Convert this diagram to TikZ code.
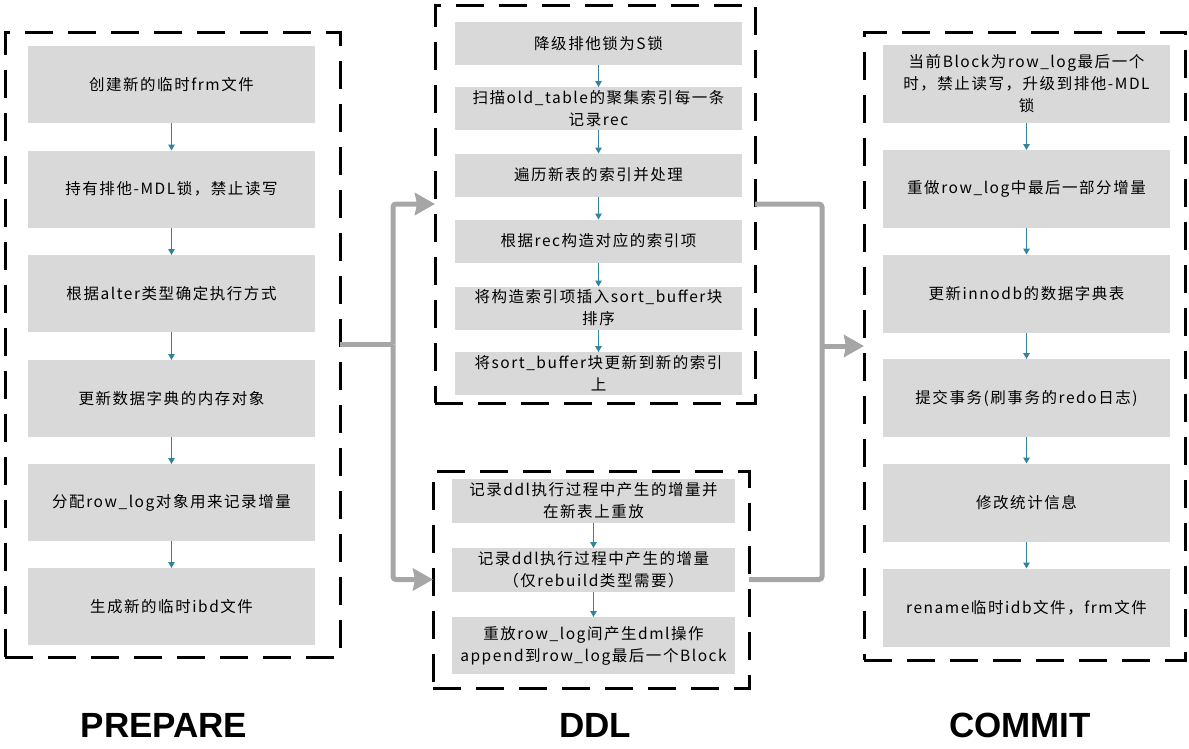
\documentclass[tikz,border=0pt]{standalone}
\usepackage{fontspec}
\setmainfont{Liberation Sans}
\newfontfamily\cjk[LetterSpace=10]{Noto Sans CJK SC}
\usetikzlibrary{arrows.meta}
\definecolor{boxgray}{HTML}{D9D9D9}
\definecolor{arrteal}{HTML}{31849B}
\definecolor{conngray}{HTML}{A6A6A6}
\tikzset{
  stepbox/.style={fill=boxgray, minimum width=287pt, inner sep=0pt, outer sep=0pt, align=center, font=\cjk\fontsize{15.5}{22}\selectfont},
  frame/.style={draw=black, line width=3pt, dash pattern=on 28pt off 15pt, inner sep=0pt, outer sep=0pt},
  flow/.style={draw=arrteal, line width=1.2pt, -{Triangle[length=6pt,width=6.5pt]}},
  bigline/.style={draw=conngray, line width=5pt, rounded corners=3pt},
  bigarrow/.style={bigline, -{Stealth[length=20pt,width=22pt,inset=2pt]}},
  phase/.style={font=\bfseries\fontsize{35}{40}\selectfont, inner sep=0pt}
}
\begin{document}
\begin{tikzpicture}[x=1pt,y=-1pt]
\useasboundingbox (0,0) rectangle (1189,748);

% frames
\node[frame, minimum width=335pt, minimum height=625pt] (prepF) at (172.5,344.5) {};
\node[frame, minimum width=320pt, minimum height=398pt] (ddlA) at (595,204) {};
\node[frame, minimum width=316pt, minimum height=217pt] (ddlB) at (591,579.5) {};
\node[frame, minimum width=321pt, minimum height=628pt] (commF) at (1024.5,346) {};

% PREPARE column
\begin{scope}[every node/.style={stepbox, minimum height=77pt}]
\node (L1) at (171.5,84.5) {创建新的临时frm文件};
\node (L2) at (171.5,189) {持有排他-MDL锁，禁止读写};
\node (L3) at (171.5,293.5) {根据alter类型确定执行方式};
\node (L4) at (171.5,398.5) {更新数据字典的内存对象};
\node (L5) at (171.5,502.5) {分配row\_log对象用来记录增量};
\node (L6) at (171.5,606.5) {生成新的临时ibd文件};
\end{scope}

% DDL top column
\begin{scope}[every node/.style={stepbox, minimum height=43pt}]
\node (A1) at (598.5,43.5) {降级排他锁为S锁};
\node (A2) at (598.5,108.5) {扫描old\_table的聚集索引每一条\\记录rec};
\node (A3) at (598.5,175) {遍历新表的索引并处理};
\node (A4) at (598.5,241) {根据rec构造对应的索引项};
\node (A5) at (598.5,308) {将构造索引项插入sort\_buffer块\\排序};
\node (A6) at (598.5,373.5) {将sort\_buffer块更新到新的索引\\上};
\end{scope}

% DDL bottom column
\begin{scope}[every node/.style={stepbox, minimum width=283pt, minimum height=44pt}]
\node (B1) at (593.5,501) {记录ddl执行过程中产生的增量并\\在新表上重放};
\node (B2) at (593.5,570) {记录ddl执行过程中产生的增量\\（仅rebuild类型需要）};
\node[minimum height=57pt] (B3) at (593.5,645.5) {重放row\_log间产生dml操作\\append到row\_log最后一个Block};
\end{scope}

% COMMIT column
\begin{scope}[every node/.style={stepbox, minimum height=78pt}]
\node (C1) at (1026.5,84) {当前Block为row\_log最后一个\\时，禁止读写，升级到排他-MDL\\锁};
\node (C2) at (1026.5,189) {重做row\_log中最后一部分增量};
\node (C3) at (1026.5,293.5) {更新innodb的数据字典表};
\node (C4) at (1026.5,398) {提交事务(刷事务的redo日志)};
\node (C5) at (1026.5,502.5) {修改统计信息};
\node (C6) at (1026.5,607.5) {rename临时idb文件，frm文件};
\end{scope}

% small flow arrows
\foreach \a/\b in {L1/L2,L2/L3,L3/L4,L4/L5,L5/L6,A1/A2,A2/A3,A3/A4,A4/A5,A5/A6,B1/B2,B2/B3,C1/C2,C2/C3,C3/C4,C4/C5,C5/C6}
  \draw[flow] (\a) -- (\b);

% big gray connectors
\coordinate (j1) at (393,344.5);
\coordinate (j2) at (822,346);
\draw[bigline] (prepF.east) -- (j1);
\draw[bigarrow] (j1) |- (ddlA.west);
\draw[bigarrow] (j1) |- (ddlB.west);
\draw[bigline] (ddlA.east) -| (j2);
\draw[bigline] (ddlB.east) -| (j2);
\draw[bigarrow] (j2) -- (commF.west);

% phase labels
\node[phase] (pP) at (164,725) {PREPARE};
\node[phase] (pD) at (595,725) {DDL};
\node[phase] (pC) at (1020,725) {COMMIT};
\end{tikzpicture}
\end{document}
